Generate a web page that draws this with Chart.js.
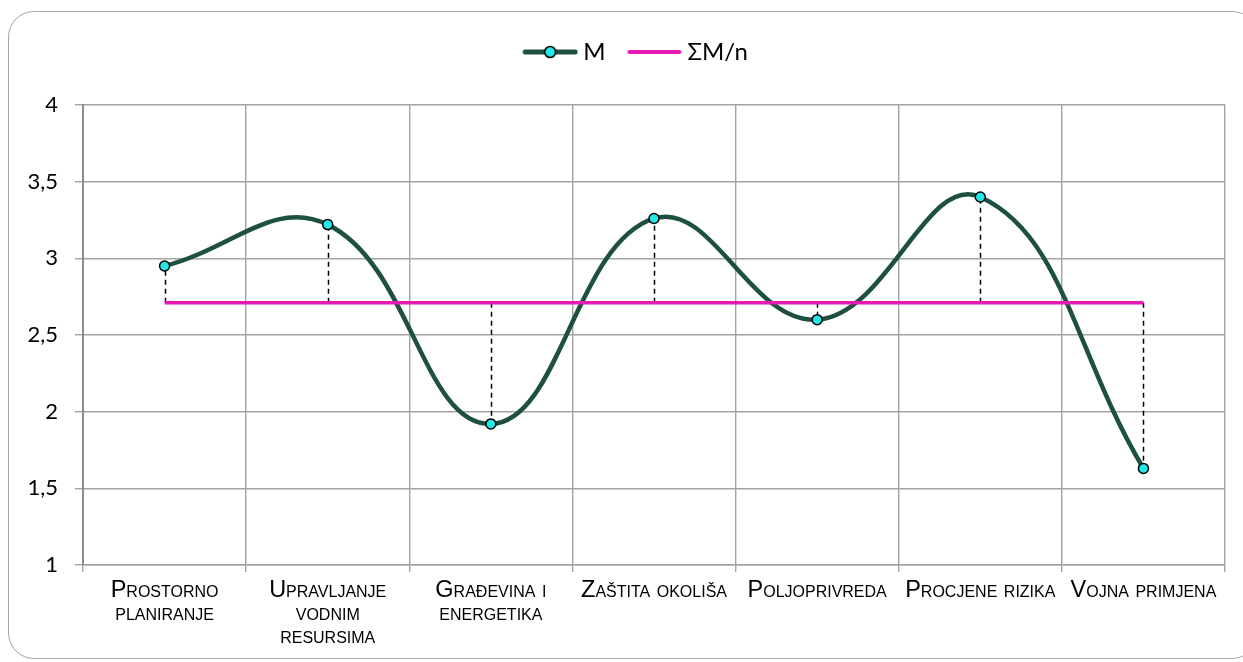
<!DOCTYPE html>
<html>
<head>
<meta charset="utf-8">
<script src="https://cdn.jsdelivr.net/npm/chart.js@4"></script>
<style>
  html, body { margin: 0; padding: 0; background: #fff; }
  body { width: 1243px; height: 662px; position: relative; overflow: hidden; }
  #frame { position: absolute; left: 8px; top: 11px; width: 1250px; height: 648px;
           border: 1.5px solid #a6a6a6; border-radius: 26px; box-sizing: border-box; }
  #wrap { position: absolute; left: 0; top: 0; width: 1243px; height: 662px; }
</style>
</head>
<body>
<div id="frame"></div>
<div id="wrap"><canvas id="c" width="1243" height="662"></canvas></div>
<script>
// ---- data ----
const categories = [
  ["Prostorno", "planiranje"],
  ["Upravljanje", "vodnim", "resursima"],
  ["Građevina i", "energetika"],
  "Zaštita okoliša",
  "Poljoprivreda",
  "Procjene rizika",
  "Vojna primjena"
];
const seriesM = [2.95, 3.22, 1.92, 3.26, 2.60, 3.40, 1.63];
const seriesMean = [2.71, 2.71, 2.71, 2.71, 2.71, 2.71, 2.71];
const seriesNames = ["M", "ΣM/n"];
const yTicks = [1, 1.5, 2, 2.5, 3, 3.5, 4];

// ---- styles ----
const GREEN = '#1e5042';
const CYAN = '#22e8e8';
const MAGENTA = '#e619b4';
const GRID = '#a3a3a3';
const SYM_W = 56, SYM_SHIFT = 7;

function legendSymbol(kind) {
  const cv = document.createElement('canvas');
  cv.width = SYM_W + 2 * SYM_SHIFT; cv.height = 16;
  const g = cv.getContext('2d');
  const x0 = 2 * SYM_SHIFT;
  g.lineCap = 'round';
  if (kind === 'M') {
    g.strokeStyle = GREEN; g.lineWidth = 5;
    g.beginPath(); g.moveTo(x0 + 3, 8); g.lineTo(x0 + SYM_W - 3, 8); g.stroke();
    g.beginPath(); g.arc(x0 + SYM_W / 2, 8, 5.5, 0, Math.PI * 2);
    g.fillStyle = CYAN; g.fill();
    g.lineWidth = 1.6; g.strokeStyle = '#000'; g.stroke();
  } else {
    g.strokeStyle = MAGENTA; g.lineWidth = 4;
    g.beginPath(); g.moveTo(x0 + 3, 8); g.lineTo(x0 + SYM_W - 3, 8); g.stroke();
  }
  return cv;
}
const symM = legendSymbol('M');
const symMean = legendSymbol('mean');

const dropLines = {
  id: 'dropLines',
  beforeDatasetsDraw(chart) {
    const x = chart.scales.x, y = chart.scales.y, ctx = chart.ctx;
    ctx.save();
    ctx.strokeStyle = '#000';
    ctx.lineWidth = 1.5;
    ctx.setLineDash([5, 4]);
    seriesM.forEach((v, i) => {
      const px = Math.round(x.getPixelForValue(i)) + 0.5;
      ctx.beginPath();
      ctx.moveTo(px, y.getPixelForValue(seriesMean[i]));
      ctx.lineTo(px, y.getPixelForValue(v));
      ctx.stroke();
    });
    ctx.restore();
  }
};

const legendSpace = {
  id: 'legendSpace',
  beforeLayout(chart) {
    const lg = chart.legend;
    if (lg && !lg._patched) {
      const f = lg.fit;
      lg.fit = function () { f.call(this); this.height += 31; };
      lg._patched = true;
    }
  },
  afterLayout(chart) {
    const lg = chart.legend;
    if (lg) { lg.left += 19; lg.right += 19; }
  }
};

new Chart(document.getElementById('c'), {
  type: 'line',
  data: {
    labels: categories,
    datasets: [
      {
        label: seriesNames[0],
        data: seriesM,
        borderColor: GREEN,
        borderWidth: 4.5,
        tension: 0.42,
        pointRadius: 5,
        pointBackgroundColor: CYAN,
        pointBorderColor: '#000',
        pointBorderWidth: 1.5,
        order: 1
      },
      {
        label: seriesNames[1],
        data: seriesMean,
        borderColor: MAGENTA,
        borderWidth: 3.5,
        pointRadius: 0,
        tension: 0,
        order: 0
      }
    ]
  },
  options: {
    responsive: false,
    animation: false,
    layout: { padding: { left: 0, right: 18, top: 26, bottom: 0 } },
    plugins: {
      tooltip: { enabled: false },
      legend: {
        position: 'top',
        labels: {
          usePointStyle: true,
          pointStyleWidth: SYM_W,
          padding: 14,
          color: '#000',
          font: { family: "Lato, 'Open Sans', sans-serif", size: 24 },
          sort: (a, b) => a.datasetIndex - b.datasetIndex,
          generateLabels(chart) {
            const items = Chart.defaults.plugins.legend.labels.generateLabels(chart);
            items.forEach(it => { it.pointStyle = it.datasetIndex === 0 ? symM : symMean; });
            return items;
          }
        }
      }
    },
    scales: {
      x: {
        offset: true,
        grid: { offset: true, color: GRID, lineWidth: 1.4, tickLength: 7, drawTicks: true },
        border: { color: GRID, width: 1.4 },
        ticks: {
          color: '#000',
          padding: 7,
          maxRotation: 0,
          autoSkip: false,
          font: { family: "'Liberation Sans', Arial, sans-serif", size: 23.5, weight: 'small-caps', lineHeight: 0.98 }
        },
        afterFit(s) { s.height = 97; }
      },
      y: {
        min: 1, max: 4,
        afterBuildTicks(s) { s.ticks = yTicks.map(v => ({ value: v })); },
        grid: { color: GRID, lineWidth: 1.4, tickLength: 8 },
        border: { color: '#8c8c8c', width: 2 },
        ticks: {
          color: '#000',
          padding: 17,
          font: { family: "Lato, 'Open Sans', sans-serif", size: 22 },
          callback: v => String(v).replace('.', ',')
        },
        afterFit(s) { s.width = 83; }
      }
    }
  },
  plugins: [dropLines, legendSpace]
});
</script>
</body>
</html>
